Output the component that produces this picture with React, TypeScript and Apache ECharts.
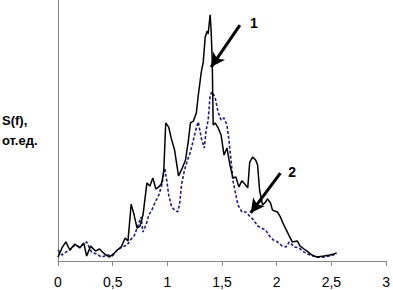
import React, { useEffect, useRef } from "react";
import * as echarts from "echarts";

const xTicks = [0, 0.5, 1, 1.5, 2, 2.5, 3];

const curve1X = [0, 0.036, 0.072, 0.108, 0.154, 0.199, 0.235, 0.262, 0.298, 0.343, 0.38, 0.425, 0.47, 0.506, 0.542, 0.578, 0.614, 0.64, 0.669, 0.696, 0.723, 0.75, 0.777, 0.813, 0.84, 0.867, 0.895, 0.922, 0.949, 0.967, 0.985, 1.012, 1.039, 1.066, 1.084, 1.102, 1.129, 1.166, 1.193, 1.211, 1.238, 1.265, 1.283, 1.31, 1.328, 1.346, 1.364, 1.373, 1.391, 1.4, 1.41, 1.419, 1.437, 1.464, 1.491, 1.518, 1.545, 1.572, 1.599, 1.626, 1.654, 1.681, 1.708, 1.735, 1.753, 1.78, 1.807, 1.825, 1.843, 1.87, 1.898, 1.916, 1.943, 1.961, 2.006, 2.033, 2.06, 2.087, 2.114, 2.142, 2.187, 2.214, 2.25, 2.277, 2.322, 2.367, 2.431, 2.485, 2.521, 2.548];
const curve1Y = [1.5, 5, 7.3, 4.2, 6.5, 5, 6.9, 1.9, 5.7, 3.8, 4.6, 2.7, 1.5, 2.7, 4.2, 5.4, 8.8, 7.7, 21.8, 17.6, 12.6, 13.4, 17.6, 29.9, 28.7, 31.8, 27.6, 28.4, 29.9, 34.5, 52.9, 51.3, 46.4, 42.5, 37.5, 32.6, 34.9, 38.7, 46.4, 52.9, 53.6, 56.7, 63.6, 72.4, 76.2, 85.8, 88.1, 87, 94.3, 88.5, 77, 52.1, 52.9, 51, 48.3, 40.6, 43.3, 36.8, 31.8, 32.2, 28.4, 30.7, 29.5, 28, 37.9, 39.8, 38.7, 36.8, 27.2, 21.5, 22.6, 23.8, 22.2, 19.5, 18.8, 16.9, 14.2, 11.9, 9.6, 7.3, 7.7, 5.7, 4.6, 3.8, 2.3, 1.5, 1.9, 2.3, 2.7, 3.1];

const curve2X = [0, 0.036, 0.072, 0.108, 0.154, 0.199, 0.262, 0.307, 0.352, 0.398, 0.452, 0.497, 0.542, 0.587, 0.633, 0.66, 0.696, 0.723, 0.759, 0.777, 0.804, 0.831, 0.858, 0.885, 0.922, 0.949, 0.976, 0.994, 1.012, 1.039, 1.066, 1.093, 1.111, 1.129, 1.157, 1.184, 1.211, 1.238, 1.265, 1.283, 1.31, 1.337, 1.355, 1.373, 1.391, 1.41, 1.437, 1.464, 1.491, 1.518, 1.545, 1.563, 1.581, 1.599, 1.617, 1.645, 1.681, 1.717, 1.753, 1.789, 1.825, 1.861, 1.898, 1.934, 1.97, 2.006, 2.051, 2.087, 2.114, 2.16, 2.205, 2.25, 2.304, 2.367, 2.431, 2.485, 2.548];
const curve2Y = [4.2, 2.3, 3.4, 4.2, 6.1, 5.4, 7.3, 3.4, 2.7, 1.5, 2.3, 1.9, 4.2, 5.4, 6.1, 8, 9.6, 12.6, 16.9, 11.1, 13.8, 17.6, 19.5, 22.2, 25.3, 29.1, 35.6, 31, 25.3, 20.7, 19.5, 18.8, 21.5, 29.1, 34.9, 38.7, 41.8, 46.4, 51, 53.3, 47.1, 43.3, 50.2, 54, 63.6, 64.8, 62.5, 57.1, 54, 54.8, 52.1, 46.4, 39.1, 31, 27.2, 21.5, 18.8, 18.8, 17.2, 15.7, 13.4, 12.6, 11.9, 9.6, 8, 7.3, 5.7, 5.4, 7.3, 5.4, 5, 3.4, 2.3, 1.5, 1.5, 1.9, 2.7];

const arrow1 = [[1.663, 90.4], [1.4, 74.3]];
const arrow2 = [[2.033, 33.7], [1.762, 18.4]];
const label1 = [1.79, 91.2];
const label2 = [2.14, 34.1];

export default function App() {
  const ref = useRef<HTMLDivElement>(null);
  useEffect(() => {
    if (!ref.current) return;
    const chart = echarts.init(ref.current, null, { renderer: "svg" });
    const font = "'Liberation Sans', Arial, sans-serif";
    const lblStyle = {
      show: true,
      position: "inside",
      color: "#000",
      fontWeight: "bold",
      fontSize: 14,
      fontFamily: font,
    };
    chart.setOption({
      animation: false,
      grid: { left: 58, right: 3, top: 0, bottom: 29, containLabel: false },
      xAxis: {
        type: "value",
        min: 0,
        max: 3,
        interval: 0.5,
        axisLine: { show: true, lineStyle: { color: "#888", width: 1 } },
        axisTick: { show: true, length: 5, lineStyle: { color: "#888" } },
        splitLine: { show: false },
        axisLabel: {
          margin: 14,
          color: "#000",
          fontSize: 14,
          fontFamily: font,
          formatter: (v: number) => String(v).replace(".", ","),
          showMaxLabel: true,
          showMinLabel: true,
        },
      },
      yAxis: {
        type: "value",
        min: 0,
        max: 100,
        axisLine: { show: true, lineStyle: { color: "#888", width: 1 } },
        axisTick: { show: false },
        axisLabel: { show: false },
        splitLine: { show: false },
      },
      graphic: [
        {
          type: "text",
          left: 2,
          top: 110,
          style: {
            text: "S(f),\nот.ед.",
            font: `bold 13px ${font}`,
            fill: "#000",
            align: "center",
            lineHeight: 20,
            width: 40,
          },
        },
      ],
      series: [
        {
          type: "line",
          data: curve2X.map((x, i) => [x, curve2Y[i]]),
          showSymbol: false,
          symbol: "none",
          lineStyle: { color: "#1f1f80", width: 1.6, type: [3, 2] },
          z: 2,
        },
        {
          type: "line",
          data: curve1X.map((x, i) => [x, curve1Y[i]]),
          showSymbol: false,
          symbol: "none",
          lineStyle: { color: "#000", width: 1.5 },
          z: 3,
          markLine: {
            silent: true,
            symbol: ["none", "arrow"],
            symbolSize: [11, 14],
            label: { show: false },
            lineStyle: { color: "#000", width: 3, type: "solid" },
            data: [
              [{ coord: arrow1[0] }, { coord: arrow1[1] }],
              [{ coord: arrow2[0] }, { coord: arrow2[1] }],
            ],
          },
          markPoint: {
            silent: true,
            symbol: "rect",
            symbolSize: 1,
            itemStyle: { color: "rgba(0,0,0,0)" },
            data: [
              { coord: label1, label: { ...lblStyle, formatter: "1" } },
              { coord: label2, label: { ...lblStyle, formatter: "2" } },
            ],
          },
        },
      ],
    });
    return () => chart.dispose();
  }, []);
  return <div ref={ref} style={{ width: 393, height: 290, position: "absolute", left: 0, top: 0 }} />;
}
